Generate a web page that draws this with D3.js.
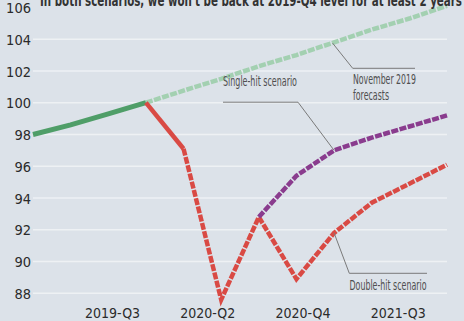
<!DOCTYPE html>
<html>
<head>
<meta charset="utf-8">
<script src="https://cdn.jsdelivr.net/npm/d3@7"></script>
<style>
html,body{margin:0;padding:0;background:#dce2e9;overflow:hidden;}
svg{display:block;}
</style>
</head>
<body>
<svg id="chart" width="464" height="321"></svg>
<script>
// ---- data ----
const quarters = ["2019-Q1","2019-Q2","2019-Q3","2019-Q4","2020-Q1","2020-Q2","2020-Q3","2020-Q4","2021-Q1","2021-Q2","2021-Q3","2021-Q4"];
const actual = [98.0, 98.6, 99.3, 100.0, null, null, null, null, null, null, null, null];
const nov2019Forecast = [null, null, null, 100.0, 100.76, 101.5, 102.3, 103.0, 103.8, 104.6, 105.3, 106.1];
const doubleHitSolid = [null, null, null, 100.0, 97.1, null, null, null, null, null, null, null];
const doubleHit = [null, null, null, null, 97.1, 87.6, 92.8, 88.9, 91.8, 93.7, 94.9, 96.1];
const singleHit = [null, null, null, null, null, null, 92.8, 95.4, 97.0, 97.8, 98.5, 99.2];
const yTicks = [88, 90, 92, 94, 96, 98, 100, 102, 104, 106];
const xTickLabels = ["2019-Q3", "2020-Q2", "2020-Q4", "2021-Q3"];
const xTickValues = [2.1, 4.63, 7.16, 9.69]; // in quarter units
const title = "In both scenarios, we won't be back at 2019-Q4 level for at least 2 years";

// ---- layout ----
const svg = d3.select("#chart");
const x = d3.scaleLinear().domain([0, quarters.length - 1]).range([33, 447]);
const y = d3.scaleLinear().domain([88, 106]).range([293.3, 7.4]);
const font = "'Liberation Sans Narrow','DejaVu Sans Condensed','Liberation Sans',sans-serif";

svg.append("rect").attr("width", 464).attr("height", 321).attr("fill", "#dce2e9");

// gridlines
svg.append("g").selectAll("line").data(yTicks.filter(d => d < 106)).join("line")
  .attr("x1", x(0)).attr("x2", x(11))
  .attr("y1", d => y(d)).attr("y2", d => y(d))
  .attr("stroke", "#eef1f4").attr("stroke-width", 1.5);

// y axis
const yAxis = d3.axisLeft(y).tickValues(yTicks).tickSize(0).tickPadding(0).tickFormat(d3.format("d"));
const gy = svg.append("g").attr("transform", "translate(31,0)").call(yAxis);
gy.select(".domain").remove();
gy.selectAll("text").attr("font-family", font).attr("font-size", 14.5).attr("fill", "#2b2b2b").attr("dy", "0.35em");

// x axis
const xAxis = d3.axisBottom(x).tickValues(xTickValues).tickSize(0).tickPadding(0)
  .tickFormat((d, i) => xTickLabels[i]);
const gx = svg.append("g").attr("transform", "translate(0,308)").call(xAxis);
gx.select(".domain").remove();
gx.selectAll("text").attr("font-family", font).attr("font-size", 14).attr("fill", "#2b2b2b").attr("dy", "0.71em");

// lines
const line = d3.line().defined(d => d != null).x((d, i) => x(i)).y(d => y(d));
function draw(data, color, width, dash) {
  svg.append("path").datum(data)
    .attr("d", line)
    .attr("fill", "none")
    .attr("stroke", color)
    .attr("stroke-width", width)
    .attr("stroke-linejoin", "miter")
    .attr("stroke-dasharray", dash || null);
}
draw(nov2019Forecast, "#a3d0b1", 4.5, "7,1.5");
draw(actual, "#4f9e68", 5);
draw(doubleHitSolid, "#d94a44", 4.5);
draw(doubleHit, "#d94a44", 4.5, "7,1.5");
draw(singleHit, "#8a3c8e", 4.5, "7,1.5");

// annotations
const lead = "#7a7a7a";
function leader(pts) {
  svg.append("path").attr("d", d3.line()(pts)).attr("fill", "none").attr("stroke", lead).attr("stroke-width", 1);
}
leader([[x(7.96), y(103.75)], [352.7, 68.3], [415, 68.3]]);
leader([[223, 102.2], [298, 102.2], [x(8), y(singleHit[8])]]);
leader([[x(8), y(doubleHit[8])], [349.3, 273.3], [427, 273.3]]);

function label(txt, tx, ty, len) {
  svg.append("text").attr("x", tx).attr("y", ty).text(txt)
    .attr("font-family", font).attr("font-size", 13.5).attr("fill", "#4f4f4f")
    .attr("textLength", len).attr("lengthAdjust", "spacingAndGlyphs");
}
label("Single-hit scenario", 223, 85.5, 74);
label("November 2019", 353, 84, 63);
label("forecasts", 353, 100, 36);
label("Double-hit scenario", 349.5, 289.5, 77);

// title
svg.append("text").attr("x", 40).attr("y", 6).text(title)
  .attr("font-family", font).attr("font-weight", "bold").attr("font-size", 15)
  .attr("fill", "#333").attr("textLength", 422).attr("lengthAdjust", "spacingAndGlyphs");
</script>
</body>
</html>
